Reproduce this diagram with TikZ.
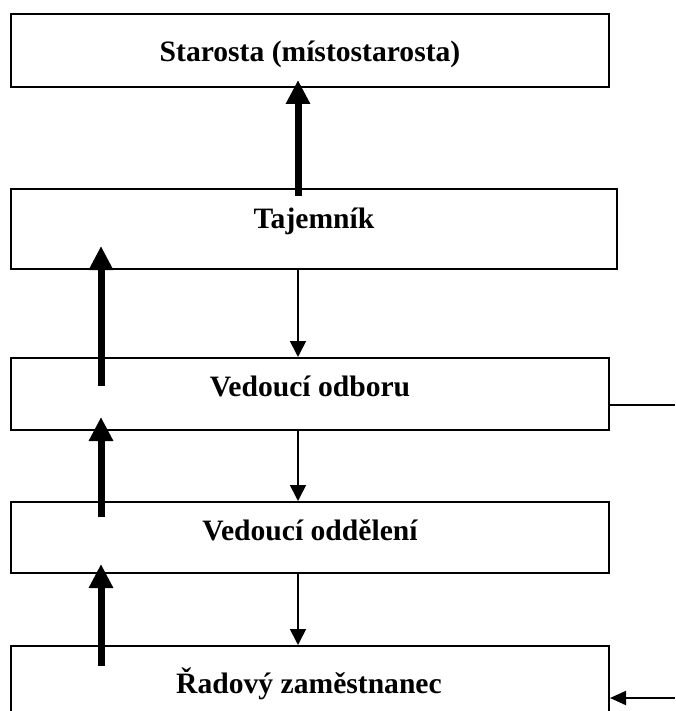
\documentclass[tikz,border=0pt]{standalone}
\usepackage{fontspec}
\setmainfont{Liberation Serif}
\usetikzlibrary{arrows.meta,calc}

\tikzset{
  box/.style={draw, line width=1pt, rectangle, inner sep=0pt},
  boxtext/.style={font=\bfseries\fontsize{14.8}{17}\selectfont, anchor=base, inner sep=0pt},
  thinarrow/.style={-{Triangle[length=8pt,width=8pt]}, line width=0.85pt},
  thickarrow/.style={-{Triangle[length=12pt,width=11.5pt]}, line width=3.5pt},
}

\begin{document}
\begin{tikzpicture}[x=0.5pt,y=-0.5pt]

\clip (0,0) rectangle (675,711);

\node[box, minimum width=299pt, minimum height=36.5pt] (starosta) at (310,50.5) {};
\node[box, minimum width=303pt, minimum height=40pt] (tajemnik) at (314,229) {};
\node[box, minimum width=299pt, minimum height=36pt] (odbor) at (310,394) {};
\node[box, minimum width=299pt, minimum height=35.5pt] (oddeleni) at (310,537.5) {};
\node[box, minimum width=299pt, minimum height=36pt] (radovy) at (310,682) {};

\node[boxtext] (tstarosta) at (310,62) {Starosta (místostarosta)};
\node[boxtext] (ttajemnik) at (314,228) {Tajemník};
\node[boxtext] (todbor) at (310,396) {Vedoucí odboru};
\node[boxtext] (toddeleni) at (310,540) {Vedoucí oddělení};
\node[boxtext] (tradovy) at (309,693) {Řadový zaměstnanec};

\coordinate (mid) at (298,0);
\coordinate (left) at (101,0);
\coordinate (rline) at (675,405);
\coordinate (rarrow) at (675,698);

\draw[thinarrow] (tajemnik.south -| mid) -- (odbor.north -| mid);
\draw[thinarrow] (odbor.south -| mid) -- (oddeleni.north -| mid);
\draw[thinarrow] (oddeleni.south -| mid) -- (radovy.north -| mid);

\draw[thickarrow] ($(tajemnik.north -| mid)+(0,8)$) -- ($(starosta.south -| mid)+(0,-8)$);
\draw[thickarrow] ($(odbor.north -| left)+(0,29)$) -- ($(tajemnik.south -| left)+(0,-24)$);
\draw[thickarrow] ($(oddeleni.north -| left)+(0,16)$) -- ($(odbor.south -| left)+(0,-14)$);
\draw[thickarrow] ($(radovy.north -| left)+(0,21)$) -- ($(oddeleni.south -| left)+(0,-10)$);

\draw[line width=1pt] (odbor.east |- rline) -- (rline);
\draw[-{Triangle[length=8pt,width=7pt]}, line width=1pt] (rarrow) -- (radovy.east |- rarrow);

\end{tikzpicture}
\end{document}
